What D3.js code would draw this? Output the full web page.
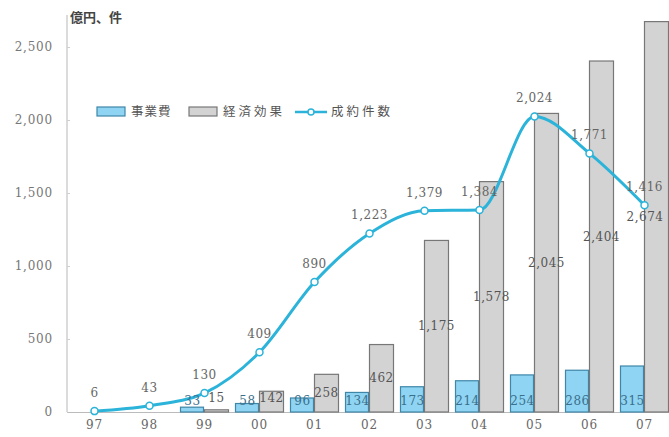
<!DOCTYPE html>
<html>
<head>
<meta charset="utf-8">
<script src="https://cdn.jsdelivr.net/npm/d3@7/dist/d3.min.js"></script>
<style>
  html, body { margin: 0; padding: 0; background: #fff; }
  svg { display: block; }
</style>
</head>
<body>
<svg id="chart" width="669" height="437"></svg>
<script>
// Fiscal years (two-digit labels)
const years = ["97", "98", "99", "00", "01", "02", "03", "04", "05", "06", "07"];
// 事業費 (億円) — no value for 97, 98
const projectCost = [null, null, 33, 58, 96, 134, 173, 214, 254, 286, 315];
// 経済効果 (億円)
const economicEffect = [null, null, 15, 142, 258, 462, 1175, 1578, 2045, 2404, 2674];
// 成約件数 (件)
const contracts = [6, 43, 130, 409, 890, 1223, 1379, 1384, 2024, 1771, 1416];
// Y-axis ticks
const yTicks = [0, 500, 1000, 1500, 2000, 2500];

const W = 669;
const svg = d3.select("#chart");
const serif = "'DejaVu Serif', 'Liberation Serif', serif";
const cjk = "'Noto Sans CJK JP', 'Noto Sans CJK SC', sans-serif";

const x = d3.scaleBand().domain(years).range([67, 672]).padding(0);
const y = d3.scaleLinear().domain([0, 2500]).range([412, 47]);
const cx = d => x(d) + x.bandwidth() / 2;
const barW = 24;

// Y axis
const yAxis = svg.append("g")
  .attr("transform", "translate(67,0)")
  .call(d3.axisLeft(y).tickValues(yTicks).tickSize(-3).tickPadding(14)
    .tickFormat(d3.format(",")));
yAxis.select(".domain").attr("stroke", "#cfcfcf").attr("stroke-width", 1.5)
  .attr("d", `M0,${y(0)}V15`);
yAxis.selectAll(".tick line").attr("stroke", "#cfcfcf");
yAxis.selectAll(".tick text")
  .attr("font-family", serif).attr("font-size", 12).attr("fill", "#777")
  .attr("letter-spacing", 0.8);

// X axis
const xAxis = svg.append("g")
  .attr("transform", `translate(0,${y(0)})`)
  .call(d3.axisBottom(x).tickSize(0).tickPadding(8));
xAxis.select(".domain").attr("stroke", "#bbb").attr("stroke-width", 1.2);
xAxis.selectAll(".tick text")
  .attr("font-family", serif).attr("font-size", 12).attr("fill", "#666")
  .attr("letter-spacing", 0.8);

// Unit label
svg.append("text")
  .attr("x", 70).attr("y", 22)
  .attr("font-family", cjk).attr("font-size", 13).attr("font-weight", "bold")
  .attr("fill", "#444")
  .text("億円、件");

// 事業費 bars
const costData = years.map((yr, i) => ({ yr, v: projectCost[i] })).filter(d => d.v != null);
svg.append("g").selectAll("rect").data(costData).join("rect")
  .attr("x", d => cx(d.yr) - barW)
  .attr("y", d => y(d.v))
  .attr("width", barW - 1)
  .attr("height", d => y(0) - y(d.v))
  .attr("fill", "#8fd4f2")
  .attr("stroke", "#3f86a8")
  .attr("stroke-width", 1.2);

// 経済効果 bars
const effectData = years.map((yr, i) => ({ yr, v: economicEffect[i] })).filter(d => d.v != null);
svg.append("g").selectAll("rect").data(effectData).join("rect")
  .attr("x", d => cx(d.yr))
  .attr("y", d => y(d.v))
  .attr("width", barW)
  .attr("height", d => y(0) - y(d.v))
  .attr("fill", "#d3d3d3")
  .attr("stroke", "#777")
  .attr("stroke-width", 1.2);

// 成約件数 line
const lineData = years.map((yr, i) => ({ yr, v: contracts[i] }));
const line = d3.line().x(d => cx(d.yr)).y(d => y(d.v)).curve(d3.curveMonotoneX);
svg.append("path").datum(lineData)
  .attr("d", line)
  .attr("fill", "none")
  .attr("stroke", "#2bb3d9")
  .attr("stroke-width", 3);
svg.append("g").selectAll("circle").data(lineData).join("circle")
  .attr("cx", d => cx(d.yr))
  .attr("cy", d => y(d.v))
  .attr("r", 3.5)
  .attr("fill", "#fff")
  .attr("stroke", "#2bb3d9")
  .attr("stroke-width", 1.5);

const fmt = d3.format(",");
const labelStyle = sel => sel
  .attr("font-family", serif).attr("font-size", 12)
  .attr("text-anchor", "middle").attr("dominant-baseline", "central")
  .attr("letter-spacing", 0.5);

// 事業費 labels near the bar base
svg.append("g").selectAll("text").data(costData).join("text")
  .call(labelStyle)
  .attr("x", d => cx(d.yr) - barW / 2)
  .attr("y", y(0) - 11)
  .attr("fill", "#3a6f8c")
  .text(d => fmt(d.v));

// 経済効果 labels centred in the bar, kept inside the plot width
svg.append("g").selectAll("text").data(effectData).join("text")
  .call(labelStyle)
  .attr("x", d => Math.min(cx(d.yr) + barW / 2, W - 24))
  .attr("y", d => Math.min((y(d.v) + y(0)) / 2, y(0) - 14))
  .attr("fill", "#555")
  .text(d => fmt(d.v));

// 成約件数 labels above the points
svg.append("g").selectAll("text").data(lineData).join("text")
  .call(labelStyle)
  .attr("x", d => cx(d.yr))
  .attr("y", d => y(d.v) - 18)
  .attr("fill", "#666")
  .text(d => fmt(d.v));

// Legend
const lg = svg.append("g");
lg.append("rect").attr("x", 97).attr("y", 107).attr("width", 28).attr("height", 9)
  .attr("fill", "#8fd4f2").attr("stroke", "#3f86a8").attr("stroke-width", 1.2);
lg.append("text").attr("x", 131).attr("y", 116)
  .attr("font-family", cjk).attr("font-size", 12.5).attr("fill", "#555")
  .attr("letter-spacing", 1).text("事業費");
lg.append("rect").attr("x", 189).attr("y", 107).attr("width", 28).attr("height", 9)
  .attr("fill", "#d3d3d3").attr("stroke", "#777").attr("stroke-width", 1.2);
lg.append("text").attr("x", 223).attr("y", 116)
  .attr("font-family", cjk).attr("font-size", 12.5).attr("fill", "#555")
  .attr("letter-spacing", 3).text("経済効果");
lg.append("line").attr("x1", 295).attr("x2", 327).attr("y1", 112).attr("y2", 112)
  .attr("stroke", "#2bb3d9").attr("stroke-width", 2.5);
lg.append("circle").attr("cx", 311).attr("cy", 112).attr("r", 3)
  .attr("fill", "#fff").attr("stroke", "#2bb3d9").attr("stroke-width", 1.5);
lg.append("text").attr("x", 331).attr("y", 116)
  .attr("font-family", cjk).attr("font-size", 12.5).attr("fill", "#555")
  .attr("letter-spacing", 3).text("成約件数");
</script>
</body>
</html>
